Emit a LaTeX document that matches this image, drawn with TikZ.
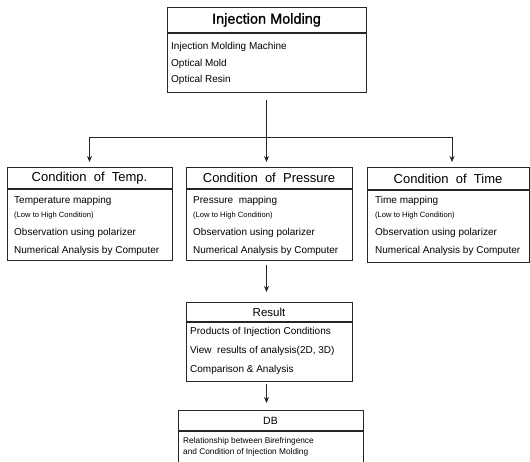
\documentclass[tikz,border=0pt]{standalone}
\usepackage{fontspec}
\setmainfont{Liberation Sans}
\newfontfamily\titlefont[FakeBold=1.2]{Liberation Sans}
\usetikzlibrary{arrows.meta}
\begin{document}
\begin{tikzpicture}[x=1pt,y=-1pt,
  frame/.style={draw=black!85, line width=0.6pt, inner sep=0pt, outer sep=0pt},
  sepline/.style={draw=black!85, line width=1.1pt},
  conn/.style={draw=black!85, line width=0.7pt},
  arr/.style={conn, -{Stealth[length=6pt,width=5pt]}},
  item/.style={anchor=west, inner sep=0pt, text height=0.72em, text depth=0.2em, font=\fontsize{10}{12}\selectfont},
  small/.style={item, font=\fontsize{7.6}{9}\selectfont},
  dbitem/.style={item, font=\fontsize{8.3}{10}\selectfont},
  ctitle/.style={font=\fontsize{13}{15}\selectfont}
]
\useasboundingbox (0,0) rectangle (530,462);

% ---------- top box ----------
\node[frame, minimum width=199pt, minimum height=26pt, font=\titlefont\fontsize{14.5}{17}\selectfont] (topT) at (266.5,20) {Injection Molding};
\node[frame, minimum width=199pt, minimum height=59pt, anchor=north] (topB) at (topT.south) {};
\draw[sepline] (topT.south west) -- (topT.south east);
\node[item] (t1) at (171,47) {Injection Molding Machine};
\node[item] (t2) at (171,63.5) {Optical Mold};
\node[item] (t3) at (171,80) {Optical Resin};

% ---------- condition boxes ----------
\node[frame, ctitle, minimum width=165pt, minimum height=22pt] (lT) at (89.5,178) {Condition\ \ of\ \ Temp.};
\node[frame, minimum width=165pt, minimum height=71pt, anchor=north] (lB) at (lT.south) {};
\draw[sepline] (lT.south west) -- (lT.south east);
\node[item] (l1) at (14,201) {Temperature mapping};
\node[small] (l2) at (14,214.5) {(Low to High Condition)};
\node[item] (l3) at (14,233) {Observation using polarizer};
\node[item] (l4) at (14,251) {Numerical Analysis by Computer};

\node[frame, ctitle, minimum width=166pt, minimum height=22pt] (mT) at (269,178) {Condition\ \ of\ \ Pressure};
\node[frame, minimum width=166pt, minimum height=71pt, anchor=north] (mB) at (mT.south) {};
\draw[sepline] (mT.south west) -- (mT.south east);
\node[item] (m1) at (193,201) {Pressure\ \ mapping};
\node[small] (m2) at (193,214.5) {(Low to High Condition)};
\node[item] (m3) at (193,233) {Observation using polarizer};
\node[item] (m4) at (193,251) {Numerical Analysis by Computer};

\node[frame, ctitle, minimum width=162pt, minimum height=23pt] (rT) at (448,178.5) {Condition\ \ of\ \ Time};
\node[frame, minimum width=162pt, minimum height=72pt, anchor=north] (rB) at (rT.south) {};
\draw[sepline] (rT.south west) -- (rT.south east);
\node[item] (r1) at (375,201) {Time mapping};
\node[small] (r2) at (375,214.5) {(Low to High Condition)};
\node[item] (r3) at (375,233) {Observation using polarizer};
\node[item] (r4) at (375,251) {Numerical Analysis by Computer};

% ---------- result box ----------
\node[frame, font=\fontsize{11.5}{14}\selectfont, minimum width=166pt, minimum height=20pt] (resT) at (269,312) {Result};
\node[frame, minimum width=166pt, minimum height=59pt, anchor=north] (resB) at (resT.south) {};
\draw[sepline] (resT.south west) -- (resT.south east);
\node[item] (s1) at (190,332) {Products of Injection Conditions};
\node[item] (s2) at (190,351) {View\ \ results of analysis(2D, 3D)};
\node[item] (s3) at (190,370) {Comparison \& Analysis};

% ---------- DB box ----------
\node[frame, font=\fontsize{10.5}{13}\selectfont, minimum width=185pt, minimum height=21pt] (dbT) at (270.5,420.5) {DB};
\draw[sepline] (dbT.south west) -- (dbT.south east);
\draw[frame] (dbT.south west) -- ++(0,40);
\draw[frame] (dbT.south east) -- ++(0,40);
\node[dbitem] (d1) at (183,441) {Relationship between Birefringence};
\node[dbitem] (d2) at (183,452) {and Condition of Injection Molding};

% ---------- connectors ----------
\coordinate (J) at (266.5,137);
\coordinate (JL) at (89.5,137);
\coordinate (JR) at (452,137);
\draw[conn, shorten <=8pt] (topB.south) -- (J);
\draw[conn] (JL) -- (JR);
\draw[arr, shorten >=5pt] (JL) -- (JL |- lT.north);
\draw[arr, shorten >=5pt] (J) -- (J |- mT.north);
\draw[arr, shorten >=5pt] (JR) -- (JR |- rT.north);
\draw[arr, shorten <=5pt, shorten >=10pt] (J |- mB.south) -- (J |- resT.north);
\draw[arr, shorten <=3pt, shorten >=7pt] (J |- resB.south) -- (J |- dbT.north);
\end{tikzpicture}
\end{document}
